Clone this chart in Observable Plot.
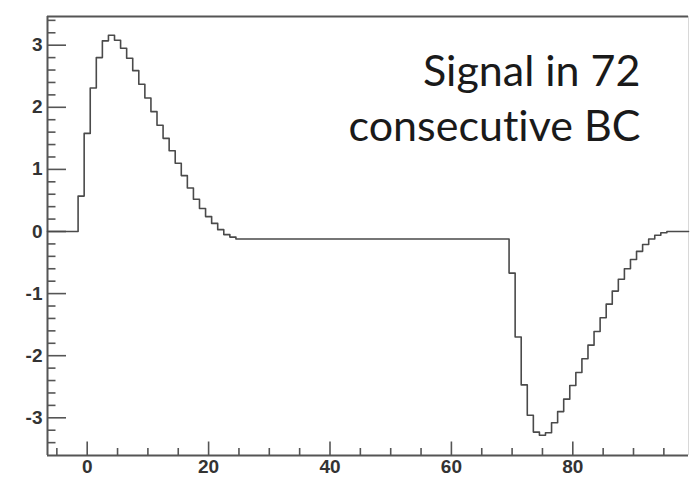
<!DOCTYPE html>
<html>
<head>
<meta charset="utf-8">
<script src="https://cdn.jsdelivr.net/npm/d3@7"></script>
<script src="https://cdn.jsdelivr.net/npm/@observablehq/plot@0.6"></script>
<style>
  html, body { margin: 0; padding: 0; background: #fff; }
  svg text { font-variant-ligatures: none; }
</style>
</head>
<body>
<div id="chart"></div>
<script>
// ---- data (bins of width 1, centred on integers) ----
const posBins   = [-1, 0, 1, 2, 3, 4, 5, 6, 7, 8, 9, 10, 11, 12, 13, 14, 15, 16, 17, 18, 19, 20, 21, 22, 23, 24];
const posValues = [0.57, 1.58, 2.31, 2.80, 3.07, 3.16, 3.08, 2.95, 2.79, 2.59, 2.37, 2.15, 1.93,
                   1.71, 1.50, 1.30, 1.10, 0.90, 0.70, 0.52, 0.37, 0.24, 0.13, 0.03, -0.05, -0.09];
const plateau   = -0.12;   // level between the two pulses
const negBins   = [70, 71, 72, 73, 74, 75, 76, 77, 78, 79, 80, 81, 82, 83, 84, 85, 86, 87, 88, 89, 90, 91, 92, 93, 94, 95];
const negValues = [-0.67, -1.70, -2.47, -2.96, -3.23, -3.28, -3.24, -3.08, -2.90, -2.70, -2.48, -2.27, -2.05,
                   -1.83, -1.61, -1.39, -1.17, -0.96, -0.77, -0.60, -0.45, -0.32, -0.21, -0.12, -0.06, -0.02];
const baseline  = 0;

const xMajorTicks = [0, 20, 40, 60, 80];
const xMinorTicks = [-5, 5, 10, 15, 25, 30, 35, 45, 50, 55, 65, 70, 75, 85, 90, 95];
const yMajorTicks = [-3, -2, -1, 0, 1, 2, 3];
const yMinorTicks = [-3.4, -3.2, -2.8, -2.6, -2.4, -2.2, -1.8, -1.6, -1.4, -1.2, -0.8, -0.6, -0.4, -0.2,
                     0.2, 0.4, 0.6, 0.8, 1.2, 1.4, 1.6, 1.8, 2.2, 2.4, 2.6, 2.8, 3.2, 3.4];
const annotation = "Signal in 72\nconsecutive BC";

// ---- layout ----
const W = 690, H = 477;
const mL = 47, mR = 2, mT = 16, mB = 22;
const xDomain = [-6.54, 99.06];
const yDomain = [-3.607, 3.462];
const kx = (W - mL - mR) / (xDomain[1] - xDomain[0]);
const ky = (H - mT - mB) / (yDomain[1] - yDomain[0]);

// step outline points (bin lower edges, step-after)
const pts = [{x: xDomain[0], y: baseline}];
posBins.forEach((k, i) => pts.push({x: k - 0.5, y: posValues[i]}));
pts.push({x: posBins[posBins.length - 1] + 0.5, y: plateau});
negBins.forEach((k, i) => pts.push({x: k - 0.5, y: negValues[i]}));
pts.push({x: negBins[negBins.length - 1] + 0.5, y: baseline});
pts.push({x: xDomain[1], y: baseline});

const axisColor = "#555";
const tickFont = {fontFamily: "'Liberation Sans', Arial, sans-serif", fontSize: 19, fontWeight: "bold", fill: "#333"};

const chart = Plot.plot({
  width: W, height: H,
  marginLeft: mL, marginRight: mR, marginTop: mT, marginBottom: mB,
  x: {domain: xDomain, axis: null},
  y: {domain: yDomain, axis: null},
  style: {background: "#fff", overflow: "visible"},
  marks: [
    // frame
    Plot.ruleX([xDomain[1]], {stroke: "#d8d8d8", strokeWidth: 1}),
    Plot.ruleY([yDomain[1]], {stroke: axisColor, strokeWidth: 2}),
    Plot.ruleX([xDomain[0]], {stroke: axisColor, strokeWidth: 2}),
    Plot.ruleY([yDomain[0]], {stroke: axisColor, strokeWidth: 2}),
    // inward ticks
    Plot.ruleY(yMajorTicks, {y: d => d, x1: xDomain[0], x2: xDomain[0] + 19 / kx, stroke: axisColor, strokeWidth: 1.6}),
    Plot.ruleY(yMinorTicks, {y: d => d, x1: xDomain[0], x2: xDomain[0] + 8.5 / kx, stroke: axisColor, strokeWidth: 1.6}),
    Plot.ruleX(xMajorTicks, {x: d => d, y1: yDomain[0], y2: yDomain[0] + 13.5 / ky, stroke: axisColor, strokeWidth: 1.6}),
    Plot.ruleX(xMinorTicks, {x: d => d, y1: yDomain[0], y2: yDomain[0] + 7 / ky, stroke: axisColor, strokeWidth: 1.6}),
    // tick labels
    Plot.axisY(yMajorTicks, {anchor: "left", label: null, tickSize: 0, tickPadding: 5, tickFormat: d => String(d), ...tickFont}),
    Plot.axisX(xMajorTicks, {anchor: "bottom", label: null, tickSize: 0, tickPadding: 4, tickFormat: d => String(d), ...tickFont}),
    // histogram outline
    Plot.line(pts, {x: "x", y: "y", curve: "step-after", stroke: "#4a4a4a", strokeWidth: 1.6}),
    // annotation
    Plot.text([annotation], {
      frameAnchor: "top-right", text: d => d, textAnchor: "end", lineAnchor: "top",
      dx: -48, dy: 30, fontSize: 43, lineHeight: 1.28,
      fontFamily: "Lato, 'Open Sans', sans-serif", fill: "#1a1a1a"
    })
  ]
});
document.getElementById("chart").appendChild(chart);
</script>
</body>
</html>
